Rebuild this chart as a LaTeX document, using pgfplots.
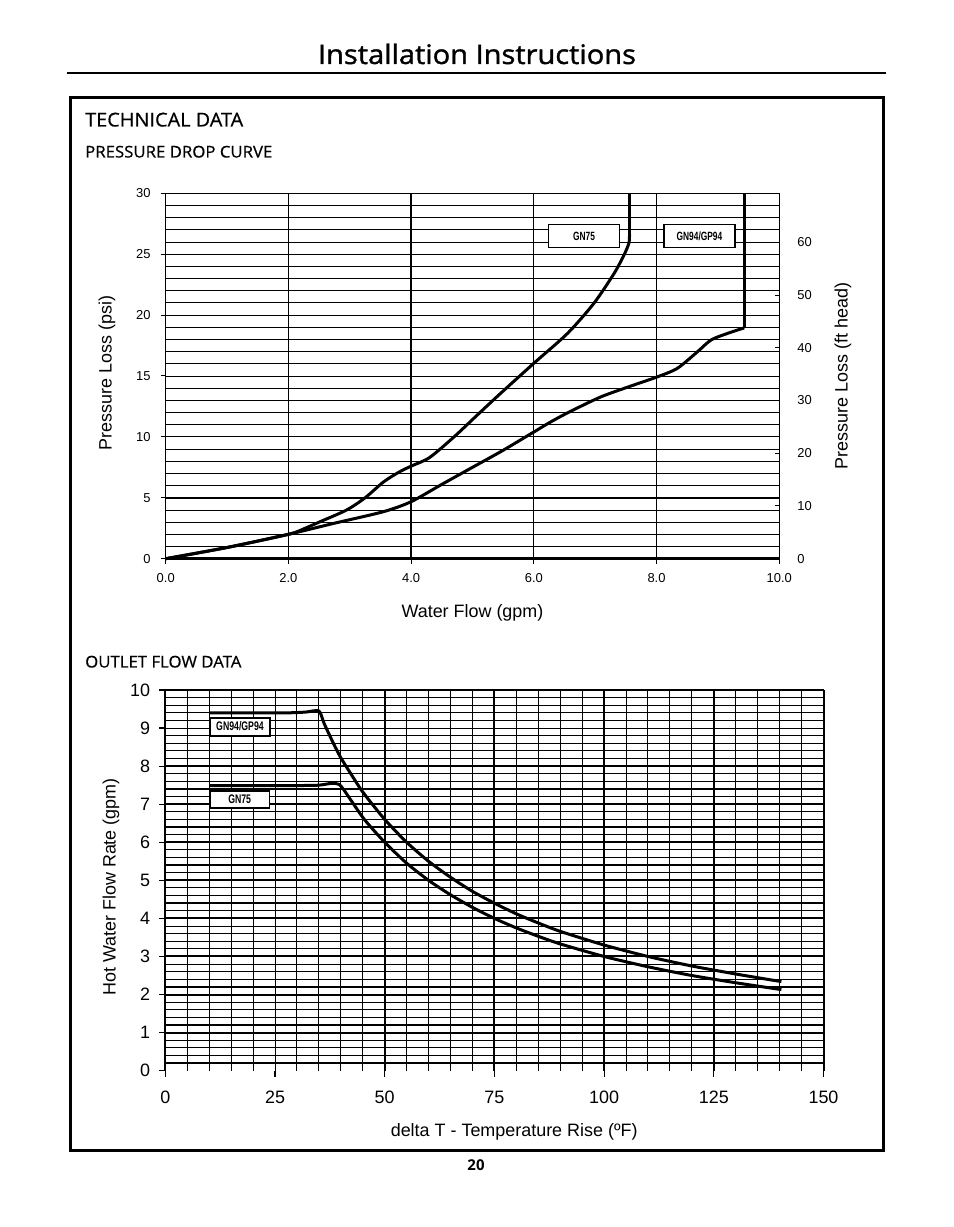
\documentclass[border=0pt]{standalone}
\usepackage{fontspec}
\setmainfont{Liberation Sans}
\newfontfamily\hdr[FakeStretch=1.04, FakeBold=0.6]{Open Sans}
\newfontfamily\hdrt[FakeStretch=1.08, FakeBold=1.3]{Open Sans}
\newfontfamily\hdrb[]{Open Sans}
\newfontfamily\cond[FakeStretch=0.7]{Liberation Sans}
\usepackage{pgfplots}
\pgfplotsset{compat=1.18}
\pgfplotsset{/pgf/number format/assume math mode=true}
\begin{document}
\begin{tikzpicture}
\useasboundingbox (0,0) rectangle (954bp,1227bp);
% ---------- page header and frame ----------
\node[anchor=base, inner sep=0] at (477bp,1163bp) {\hdrt\fontsize{27}{30}\selectfont Installation Instructions};
\draw[line width=2.7bp] (66.7bp,1154bp) -- (886bp,1154bp);
\draw[line width=3bp] (70bp,1129.8bp) rectangle (883.7bp,76.7bp);
\node[anchor=base west, inner sep=0] at (85bp,1100.5bp) {\hdr\fontsize{19.2}{22}\selectfont TECHNICAL DATA};
\node[anchor=base west, inner sep=0] at (85bp,1069.5bp) {\hdr\fontsize{16.2}{20}\selectfont PRESSURE DROP CURVE};
\node[anchor=base west, inner sep=0] at (85bp,559.5bp) {\hdr\fontsize{16.2}{20}\selectfont OUTLET FLOW DATA};
\node[anchor=base, inner sep=0] at (476bp,56bp) {\hdrb\bfseries\fontsize{15}{18}\selectfont 20};

% ---------- pressure drop curve ----------
\begin{axis}[
  at={(165.7bp,668.3bp)}, anchor=south west, scale only axis,
  width=613.5bp, height=365.4bp,
  xmin=0, xmax=10, ymin=0, ymax=30, clip=false,
  axis line style={line width=1.1bp},
  xtick={0,2,4,6,8,10}, xticklabels={0.0,2.0,4.0,6.0,8.0,10.0},
  ytick={0,5,...,30},
  tick align=outside, major tick length=5bp,
  tick pos=left,
  tick style={black, line width=1bp},
  tick label style={font=\fontsize{13}{13}\selectfont, inner sep=0pt},
  xticklabel style={anchor=center, yshift=-14bp},
  yticklabel style={anchor=east, xshift=-10bp},
  xlabel={Water Flow (gpm)}, ylabel={Pressure Loss (psi)},
  label style={font=\fontsize{18}{18}\selectfont},
  xlabel style={at={(axis description cs:0.5,-0.147)}, anchor=center},
  ylabel style={at={(axis description cs:-0.0957,0.508)}, anchor=center},
]
\pgfplotsinvokeforeach{1,2,...,29}{
  \draw[line width=0.9bp, black] (axis cs:0,#1) -- (axis cs:10,#1);
}
\pgfplotsinvokeforeach{2,6,8}{
  \draw[line width=1.1bp, black] (axis cs:#1,0) -- (axis cs:#1,30);
}
\draw[line width=2.4bp, black] (axis cs:0,5) -- (axis cs:10,5);
\draw[line width=2.4bp, black] (axis cs:4,0) -- (axis cs:4,30);
\draw[line width=2.6bp, black] (axis cs:0,0) -- (axis cs:10,0);
% GN75
\addplot[black, line width=3bp, smooth, tension=0.45, line join=round] coordinates {
 (0,0) (1,0.92) (2.0,2.0) (2.25,2.45) (2.5,3.0) (2.95,4.0) (3.25,5.0) (3.55,6.3) (3.8,7.1)
 (4.0,7.6) (4.3,8.3) (4.70,10.0) (5.08,11.8) (5.46,13.58) (6.0,16.04) (6.55,18.5)
 (6.98,20.97) (7.31,23.43) (7.47,24.93) (7.55,25.9) (7.56,26.6)
};
\addplot[black, line width=3bp, line join=round] coordinates {(7.56,26.5) (7.56,30)};
% GN94/GP94
\addplot[black, line width=3bp, smooth, tension=0.45, line join=round] coordinates {
 (0,0) (1,0.92) (2.0,2.0) (2.74,2.9) (3.55,3.86) (4.0,4.68) (4.5,6.1) (5.0,7.5)
 (5.5,8.9) (6.0,10.4) (6.3,11.3) (6.6,12.1) (7.1,13.3) (7.63,14.26) (8.02,14.94)
 (8.34,15.63) (8.67,17.0) (8.89,17.96) (9.16,18.5) (9.43,18.95)
};
\addplot[black, line width=3bp, line join=round] coordinates {(9.43,18.92) (9.43,30)};
\node[draw, line width=1.3bp, fill=white, minimum width=70.7bp, minimum height=23.4bp, inner sep=0pt,
  font=\cond\bfseries\fontsize{12}{12}\selectfont] at (axis cs:6.82,26.5) {GN75};
\node[draw, line width=1.3bp, fill=white, minimum width=71bp, minimum height=23.4bp, inner sep=0pt,
  font=\cond\bfseries\fontsize{12}{12}\selectfont] at (axis cs:8.70,26.5) {GN94/GP94};
\end{axis}

\begin{axis}[
  at={(165.7bp,668.3bp)}, anchor=south west, scale only axis,
  width=613.5bp, height=365.4bp,
  xmin=0, xmax=10, ymin=0, ymax=69.3,
  hide x axis, axis y line*=right,
  axis line style={line width=1.3bp, -},
  ytick={0,10,...,60},
  tick align=inside, major tick length=4bp,
  tick style={black, line width=1bp},
  tick label style={font=\fontsize{13}{13}\selectfont, inner sep=0pt},
  yticklabel style={anchor=west, xshift=18bp},
  ylabel={Pressure Loss (ft head)},
  label style={font=\fontsize{18}{18}\selectfont},
  ylabel style={at={(axis description cs:1.104,0.5)}, anchor=center},
]
\addplot[draw=none] coordinates {(0,0) (10,69.3)};
\end{axis}

% ---------- outlet flow data ----------
\begin{axis}[
  at={(165.3bp,156.3bp)}, anchor=south west, scale only axis,
  width=658.2bp, height=380.7bp,
  xmin=0, xmax=150, ymin=0, ymax=10, clip=false,
  axis line style={draw=none},
  xtick={0,25,...,150},
  ytick={0,1,...,10},
  tick align=outside, major tick length=6bp,
  tick pos=left,
  tick style={black, line width=1.2bp},
  tick label style={font=\fontsize{18}{18}\selectfont, inner sep=0pt},
  xticklabel style={anchor=center, yshift=-21bp},
  yticklabel style={anchor=east, xshift=-9bp},
  xlabel={delta T - Temperature Rise (ºF)}, ylabel={Hot Water Flow Rate (gpm)},
  label style={font=\fontsize{18}{18}\selectfont},
  xlabel style={at={(axis description cs:0.53,-0.161)}, anchor=center},
  ylabel style={at={(axis description cs:-0.0825,0.4825)}, anchor=center},
]
% thin grid
\pgfplotsinvokeforeach{0.2,0.4,...,9.9}{
  \draw[line width=1bp, black] (axis cs:0,#1) -- (axis cs:150,#1);
}
\draw[line width=1.3bp, black] (axis cs:0,10) -- (axis cs:150,10);
\pgfplotsinvokeforeach{5,10,...,145}{
  \draw[line width=1bp, black] (axis cs:#1,0) -- (axis cs:#1,10);
}
% heavy grid
\pgfplotsinvokeforeach{0.2,1,1.2,2,2.2,3,4,4.4,5,5.4,6,6.4,7,7.4,8}{
  \draw[line width=2bp, black] (axis cs:0,#1) -- (axis cs:150,#1);
}
\pgfplotsinvokeforeach{0,50,75,100,125,150}{
  \draw[line width=2bp, black] (axis cs:#1,0) -- (axis cs:#1,10);
}
% GN94/GP94
\addplot[black, line width=3bp, smooth, tension=0.4, line join=round] coordinates {
 (10,9.40) (20,9.40) (28,9.40) (32,9.42) (35.0,9.45) (36.2,9.12) (38.3,8.6) (40,8.22)
 (42.5,7.76) (45,7.32) (50,6.6) (55,6.0) (60,5.5) (65,5.08) (70,4.71)
 (75,4.4) (80,4.12) (85,3.88) (90,3.66) (100,3.30) (110,3.0)
 (120,2.75) (130,2.54) (140.4,2.34)
};
% GN75
\addplot[black, line width=3bp, smooth, tension=0.4, line join=round] coordinates {
 (10,7.49) (20,7.49) (30,7.49) (35,7.50) (38,7.55) (39.6,7.52) (40.8,7.36) (42.8,7.02)
 (45.5,6.58) (50,6.0) (55,5.45) (60,5.0) (65,4.62) (70,4.29) (75,4.0)
 (80,3.75) (85,3.53) (90,3.33) (100,3.0) (110,2.73) (120,2.5)
 (130,2.31) (140.4,2.13)
};
\node[draw, line width=2bp, fill=white, minimum width=60bp, minimum height=18bp, inner sep=0pt,
  font=\cond\bfseries\fontsize{12.5}{12.5}\selectfont] at (axis cs:17.02,9.04) {GN94/GP94};
\node[draw, line width=1.6bp, fill=white, minimum width=59.3bp, minimum height=17.3bp, inner sep=0pt,
  font=\cond\bfseries\fontsize{12.5}{12.5}\selectfont] at (axis cs:16.95,7.12) {GN75};
\end{axis}
\end{tikzpicture}
\end{document}
